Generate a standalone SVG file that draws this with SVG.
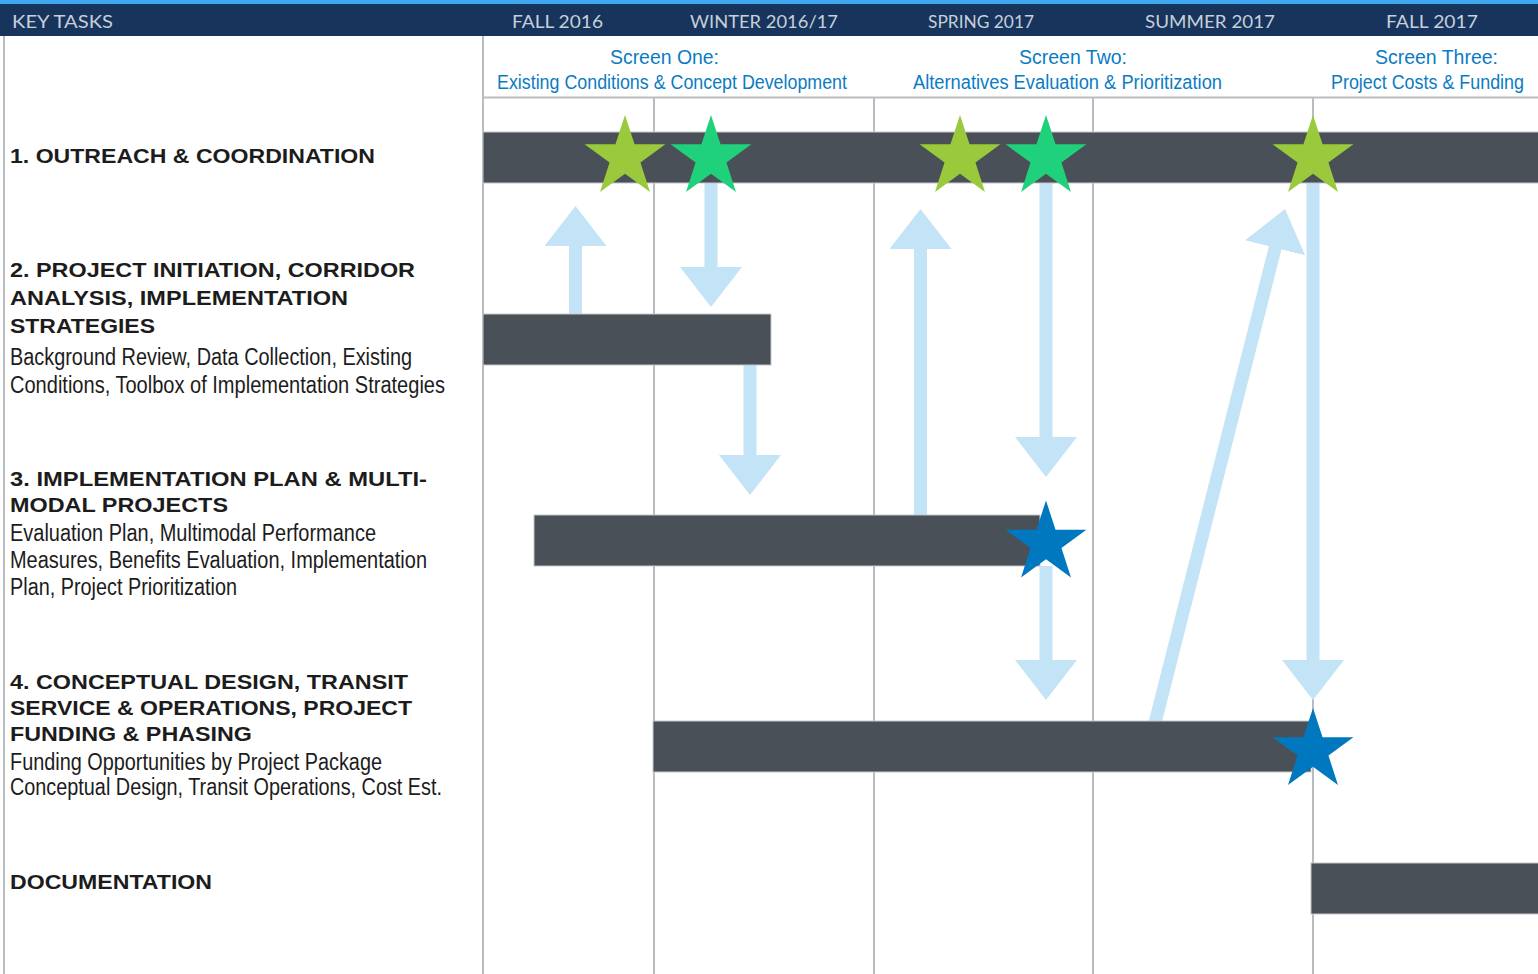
<svg xmlns="http://www.w3.org/2000/svg" width="1538" height="974" viewBox="0 0 1538 974">
<style>
.hdr{font-family:"Lato","Liberation Sans",sans-serif;font-size:18px;fill:#c6cfdb}
.scr{font-family:"Liberation Sans",sans-serif;font-size:20px;fill:#0a7cc3}
.ttl{font-family:"Liberation Sans",sans-serif;font-weight:bold;font-size:21px;fill:#1c1c1c}
.sub{font-family:"Liberation Sans",sans-serif;font-size:23px;fill:#1c1c1c}
.grid{stroke:#b9bdc1;stroke-width:2}
.bar{fill:#4a5057;stroke:#c4c7ca;stroke-width:1}
.arr{stroke:#c3e4f7;stroke-width:13;fill:none;marker-end:url(#head)}
</style>
<defs>
<marker id="head" markerUnits="userSpaceOnUse" markerWidth="42" markerHeight="64" refX="20" refY="31" orient="auto" viewBox="0 0 42 64">
<path d="M0,0 L40,31 L0,62 Z" fill="#c3e4f7"/>
</marker>
<path id="star" d="M0,-42.5 L9.55,-13.14 L40.42,-13.13 L15.45,5.02 L24.98,34.38 L0,16.24 L-24.98,34.38 L-15.45,5.02 L-40.42,-13.13 L-9.55,-13.14 Z"/>
</defs>
<rect x="0" y="0" width="1538" height="974" fill="#ffffff"/>
<g id="header">
<rect x="0" y="0" width="1538" height="5" fill="#3ea8f0"/>
<rect x="0" y="4" width="1538" height="32" fill="#17355c"/>
<text class="hdr" x="12" y="28" textLength="101" lengthAdjust="spacingAndGlyphs">KEY TASKS</text>
<text class="hdr" x="512" y="28" textLength="91" lengthAdjust="spacingAndGlyphs">FALL 2016</text>
<text class="hdr" x="690" y="28" textLength="148" lengthAdjust="spacingAndGlyphs">WINTER 2016/17</text>
<text class="hdr" x="928" y="28" textLength="106" lengthAdjust="spacingAndGlyphs">SPRING 2017</text>
<text class="hdr" x="1145" y="28" textLength="130" lengthAdjust="spacingAndGlyphs">SUMMER 2017</text>
<text class="hdr" x="1386" y="28" textLength="92" lengthAdjust="spacingAndGlyphs">FALL 2017</text>
</g>
<g id="grid">
<line class="grid" x1="4" y1="36" x2="4" y2="974"/>
<line class="grid" x1="483" y1="36" x2="483" y2="974"/>
<line class="grid" x1="483" y1="97.5" x2="1538" y2="97.5"/>
<line class="grid" x1="654" y1="98" x2="654" y2="974"/>
<line class="grid" x1="874" y1="98" x2="874" y2="974"/>
<line class="grid" x1="1093" y1="98" x2="1093" y2="974"/>
<line class="grid" x1="1313" y1="98" x2="1313" y2="974"/>
</g>
<g id="screens">
<text class="scr" x="610" y="64" textLength="109" lengthAdjust="spacingAndGlyphs">Screen One:</text>
<text class="scr" x="497" y="89" textLength="350" lengthAdjust="spacingAndGlyphs">Existing Conditions &amp; Concept Development</text>
<text class="scr" x="1019" y="64" textLength="108" lengthAdjust="spacingAndGlyphs">Screen Two:</text>
<text class="scr" x="913" y="89" textLength="309" lengthAdjust="spacingAndGlyphs">Alternatives Evaluation &amp; Prioritization</text>
<text class="scr" x="1375" y="64" textLength="123" lengthAdjust="spacingAndGlyphs">Screen Three:</text>
<text class="scr" x="1331" y="89" textLength="193" lengthAdjust="spacingAndGlyphs">Project Costs &amp; Funding</text>
</g>
<g id="connectors">
<line class="arr" x1="575.5" y1="316" x2="575.5" y2="226"/>
<line class="arr" x1="711" y1="183" x2="711" y2="287"/>
<line class="arr" x1="750" y1="363" x2="750" y2="475"/>
<line class="arr" x1="920.5" y1="517" x2="920.5" y2="229"/>
<line class="arr" x1="1046" y1="183" x2="1046" y2="457"/>
<line class="arr" x1="1046" y1="566" x2="1046" y2="680"/>
<line class="arr" x1="1155" y1="723" x2="1280.1" y2="228.4"/>
<line class="arr" x1="1313" y1="183" x2="1313" y2="680"/>
</g>
<g id="task1">
<rect class="bar" x="483" y="132" width="1056" height="51"/>
<text class="ttl" x="10" y="163" textLength="365" lengthAdjust="spacingAndGlyphs">1. OUTREACH &amp; COORDINATION</text>
</g>
<g id="task2">
<rect class="bar" x="483" y="314" width="288" height="51"/>
<text class="ttl" x="10" y="277" textLength="405" lengthAdjust="spacingAndGlyphs">2. PROJECT INITIATION, CORRIDOR</text>
<text class="ttl" x="10" y="305" textLength="338" lengthAdjust="spacingAndGlyphs">ANALYSIS, IMPLEMENTATION</text>
<text class="ttl" x="10" y="333" textLength="145" lengthAdjust="spacingAndGlyphs">STRATEGIES</text>
<text class="sub" x="10" y="365" textLength="402" lengthAdjust="spacingAndGlyphs">Background Review, Data Collection, Existing</text>
<text class="sub" x="10" y="393" textLength="435" lengthAdjust="spacingAndGlyphs">Conditions, Toolbox of Implementation Strategies</text>
</g>
<g id="task3">
<rect class="bar" x="534" y="515" width="506" height="51"/>
<text class="ttl" x="10" y="486" textLength="417" lengthAdjust="spacingAndGlyphs">3. IMPLEMENTATION PLAN &amp; MULTI-</text>
<text class="ttl" x="10" y="512" textLength="218" lengthAdjust="spacingAndGlyphs">MODAL PROJECTS</text>
<text class="sub" x="10" y="541" textLength="366" lengthAdjust="spacingAndGlyphs">Evaluation Plan, Multimodal Performance</text>
<text class="sub" x="10" y="568" textLength="417" lengthAdjust="spacingAndGlyphs">Measures, Benefits Evaluation, Implementation</text>
<text class="sub" x="10" y="595" textLength="227" lengthAdjust="spacingAndGlyphs">Plan, Project Prioritization</text>
</g>
<g id="task4">
<rect class="bar" x="653" y="721" width="658" height="51"/>
<text class="ttl" x="10" y="689" textLength="398" lengthAdjust="spacingAndGlyphs">4. CONCEPTUAL DESIGN, TRANSIT</text>
<text class="ttl" x="10" y="715" textLength="402" lengthAdjust="spacingAndGlyphs">SERVICE &amp; OPERATIONS, PROJECT</text>
<text class="ttl" x="10" y="741" textLength="242" lengthAdjust="spacingAndGlyphs">FUNDING &amp; PHASING</text>
<text class="sub" x="10" y="770" textLength="372" lengthAdjust="spacingAndGlyphs">Funding Opportunities by Project Package</text>
<text class="sub" x="10" y="795" textLength="432" lengthAdjust="spacingAndGlyphs">Conceptual Design, Transit Operations, Cost Est.</text>
</g>
<g id="task5">
<rect class="bar" x="1311" y="863" width="228" height="51"/>
<text class="ttl" x="10" y="889" textLength="202" lengthAdjust="spacingAndGlyphs">DOCUMENTATION</text>
</g>
<g id="milestones">
<use href="#star" x="625" y="157.5" fill="#9ac93b"/>
<use href="#star" x="711" y="157.5" fill="#20d17b"/>
<use href="#star" x="960" y="157.5" fill="#9ac93b"/>
<use href="#star" x="1046" y="157.5" fill="#20d17b"/>
<use href="#star" x="1313" y="157.5" fill="#9ac93b"/>
<use href="#star" x="1046" y="543" fill="#0078bf"/>
<use href="#star" x="1313" y="750.5" fill="#0078bf"/>
</g>
</svg>
